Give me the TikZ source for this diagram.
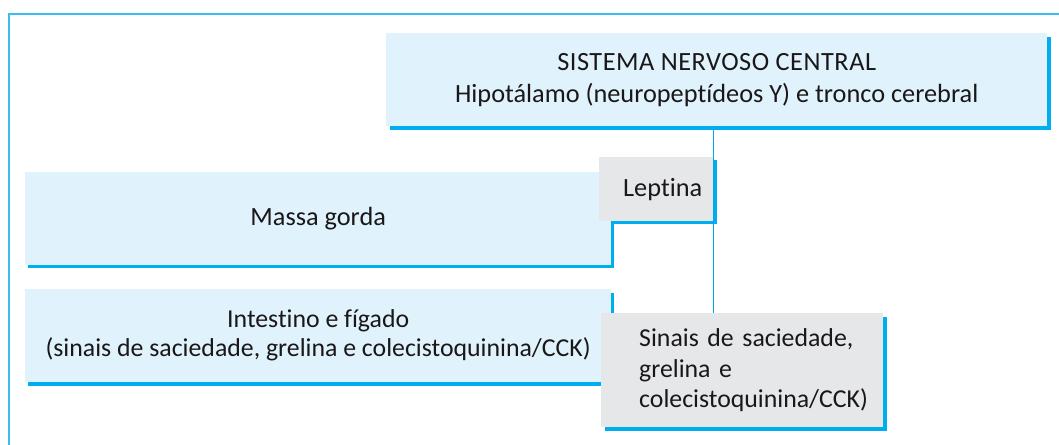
\documentclass[tikz,border=0pt]{standalone}
\usepackage{fontspec}
\setmainfont{Carlito}[RawFeature={-liga}]
\usetikzlibrary{backgrounds}
\definecolor{boxblue}{HTML}{E0F2FC}
\definecolor{boxgray}{HTML}{E6E7E8}
\definecolor{shadowblue}{HTML}{00AEEF}
\definecolor{framec}{HTML}{3DBDEE}
\definecolor{connc}{HTML}{00A6EC}
\definecolor{textc}{HTML}{1A1718}
\begin{document}
\begin{tikzpicture}[x=1pt,y=-1pt,
  txt/.style={text=textc, inner sep=0pt, align=center, anchor=north west},
  bluebox/.style={txt, fill=boxblue},
  graybox/.style={txt, fill=boxgray},
  shade/.style={fill=shadowblue},
  frameline/.style={draw=framec, line width=2pt},
  connline/.style={color=connc, line width=1.5pt}]
\useasboundingbox (0,0) rectangle (1059,444);

% frame
\coordinate (fbl) at (9.3,445);
\coordinate (ftl) at (9.3,14.3);
\coordinate (ftr) at (1060,14.3);
\draw[frameline] (fbl) -- (ftl) -- (ftr);

% boxes
\node[bluebox, minimum width=661pt, minimum height=93pt,
      font=\fontsize{26.3}{32}\selectfont] (snc) at (386,33)
  {{\addfontfeatures{LetterSpace=2}SISTEMA NERVOSO CENTRAL}\\Hipotálamo (neuropeptídeos Y) e tronco cerebral};
\node[bluebox, minimum width=586pt, minimum height=93pt,
      font=\fontsize{26.3}{31}\selectfont] (massa) at (25,172) {Massa gorda};
\node[graybox, minimum width=114pt, minimum height=64pt,
      font=\fontsize{26.3}{31}\selectfont] (lep) at (599,157) {\hspace*{13pt}Leptina};
\node[bluebox, minimum width=586pt, minimum height=93pt,
      font=\fontsize{25.8}{29}\selectfont] (int) at (25,289)
  {Intestino e fígado\\(sinais de saciedade, grelina e colecistoquinina/CCK)};
\node[graybox, minimum width=282pt, minimum height=114pt, text width=282pt, align=left,
      font=\fontsize{25.8}{30.5}\selectfont] (sin) at (601,313)
  {\hspace*{38pt}Sinais de saciedade,\\\hspace*{38pt}grelina e\\\hspace*{38pt}colecistoquinina/CCK)};

% shadows
\begin{scope}[on background layer]
\fill[shade] ([shift={(4,4)}]snc.north west) rectangle ([shift={(4,4)}]snc.south east);
\fill[shade] ([shift={(4,3)}]lep.north west) rectangle ([shift={(4,3)}]lep.south east);
\fill[shade] ([shift={(3,3)}]massa.north west) rectangle ([shift={(3,3)}]massa.south east);
\fill[shade] ([shift={(3,4)}]int.north west) rectangle ([shift={(3,4)}]int.south east);
\fill[shade] ([shift={(4,4)}]sin.north west) rectangle ([shift={(4,4)}]sin.south east);
\end{scope}

% connector
\draw[connline] (snc.south -| lep.east) -- (sin.north -| lep.east);
\end{tikzpicture}
\end{document}
